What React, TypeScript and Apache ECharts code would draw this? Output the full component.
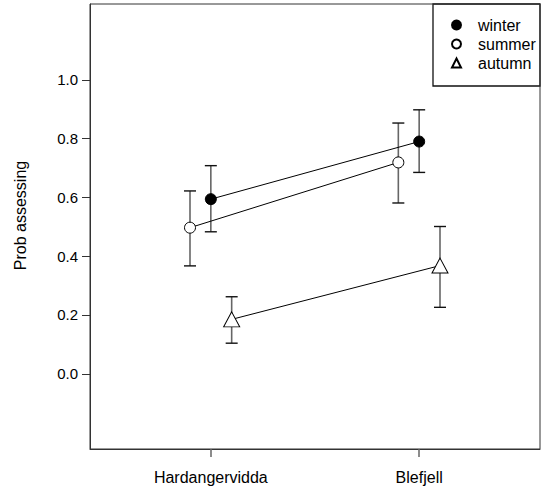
import React, { useEffect, useRef } from "react";
import * as echarts from "echarts";

const sites = ["Hardangervidda", "Blefjell"];
const sitePos = [1, 2];
const yTicks = [0, 0.2, 0.4, 0.6, 0.8, 1.0];

const winter = [0.594, 0.79];
const winterLo = [0.483, 0.685];
const winterHi = [0.708, 0.898];

const summer = [0.497, 0.719];
const summerLo = [0.367, 0.581];
const summerHi = [0.622, 0.853];

const autumn = [0.185, 0.368];
const autumnLo = [0.104, 0.226];
const autumnHi = [0.262, 0.501];

const FONT = "Liberation Sans, Arial, sans-serif";

function errSeries(name: string, lo: number[], hi: number[], offset: number) {
  return {
    type: "custom",
    name: name + "-err",
    silent: true,
    z: 1,
    data: lo.map((l, i) => [sitePos[i] + offset, l, hi[i]]),
    encode: { x: 0, y: [1, 2] },
    renderItem: (params: any, api: any) => {
      const x = api.value(0);
      const pLo = api.coord([x, api.value(1)]);
      const pHi = api.coord([x, api.value(2)]);
      const cap = 6;
      return {
        type: "group",
        children: [
          { type: "line", shape: { x1: pLo[0], y1: pLo[1], x2: pHi[0], y2: pHi[1] }, style: { stroke: "#666", lineWidth: 1.6 } },
          { type: "line", shape: { x1: pLo[0] - cap, y1: pLo[1], x2: pLo[0] + cap, y2: pLo[1] }, style: { stroke: "#111", lineWidth: 1.4 } },
          { type: "line", shape: { x1: pHi[0] - cap, y1: pHi[1], x2: pHi[0] + cap, y2: pHi[1] }, style: { stroke: "#111", lineWidth: 1.4 } },
        ],
      };
    },
  };
}

function lineSeries(name: string, vals: number[], offset: number, symbol: string, size: any, fill: string) {
  return {
    type: "line",
    name,
    z: 3,
    data: vals.map((v, i) => [sitePos[i] + offset, v]),
    symbol,
    symbolSize: size,
    showAllSymbol: true,
    lineStyle: { color: "#000", width: 1 },
    itemStyle: { color: fill, borderColor: "#000", borderWidth: 1 },
    emphasis: { disabled: true },
  };
}

export default function App() {
  const ref = useRef<HTMLDivElement>(null);
  useEffect(() => {
    document.body.style.margin = "0";
    if (!ref.current) return;
    const chart = echarts.init(ref.current, undefined, { renderer: "svg" });
    chart.setOption({
      animation: false,
      backgroundColor: "#fff",
      grid: { left: 90, top: 4, width: 450, height: 445, show: true, borderColor: "#333", borderWidth: 1 },
      xAxis: {
        type: "value",
        min: 0.42,
        max: 2.58,
        axisLine: { show: true, onZero: false, lineStyle: { color: "#333", width: 1 } },
        splitLine: { show: false },
        axisTick: { show: true, length: 8, customValues: sitePos, lineStyle: { color: "#666", width: 1.5 } },
        axisLabel: {
          customValues: sitePos,
          margin: 20,
          fontSize: 16,
          fontFamily: FONT,
          color: "#000",
          formatter: (v: number) => sites[Math.round(v) - 1] ?? "",
        },
      },
      yAxis: {
        type: "value",
        min: -0.256,
        max: 1.258,
        name: "Prob assessing",
        nameLocation: "middle",
        nameGap: 62,
        nameTextStyle: { fontSize: 16, fontFamily: FONT, color: "#000", padding: [0, 0, 0, 22] },
        axisLine: { show: true, onZero: false, lineStyle: { color: "#333", width: 1 } },
        splitLine: { show: false },
        axisTick: { show: true, length: 8, customValues: yTicks, lineStyle: { color: "#333", width: 1 } },
        axisLabel: {
          customValues: yTicks,
          margin: 12,
          fontSize: 15,
          fontFamily: FONT,
          color: "#000",
          formatter: (v: number) => v.toFixed(1),
        },
      },
      legend: {
        orient: "vertical",
        left: 446,
        top: 12,
        itemWidth: 9,
        itemHeight: 9,
        itemGap: 3,
        selectedMode: false,
        textStyle: { fontSize: 16, fontFamily: FONT, color: "#000", padding: [0, 0, 0, 12] },
        data: [
          { name: "winter", icon: "circle" },
          { name: "summer", icon: "circle" },
          { name: "autumn", icon: "triangle" },
        ],
      },
      graphic: [
        {
          type: "rect",
          z: -1,
          zlevel: 0,
          shape: { x: 433, y: 4, width: 107, height: 82 },
          style: { fill: "#fff", stroke: "#111", lineWidth: 1.3 },
        },
      ],
      series: [
        errSeries("summer", summerLo, summerHi, -0.1),
        errSeries("winter", winterLo, winterHi, 0),
        errSeries("autumn", autumnLo, autumnHi, 0.1),
        lineSeries("winter", winter, 0, "circle", 11, "#000"),
        lineSeries("summer", summer, -0.1, "circle", 11, "#fff"),
        lineSeries("autumn", autumn, 0.1, "triangle", [16, 15], "#fff"),
      ],
    });
    return () => chart.dispose();
  }, []);
  return <div ref={ref} style={{ width: 546, height: 493 }} />;
}
